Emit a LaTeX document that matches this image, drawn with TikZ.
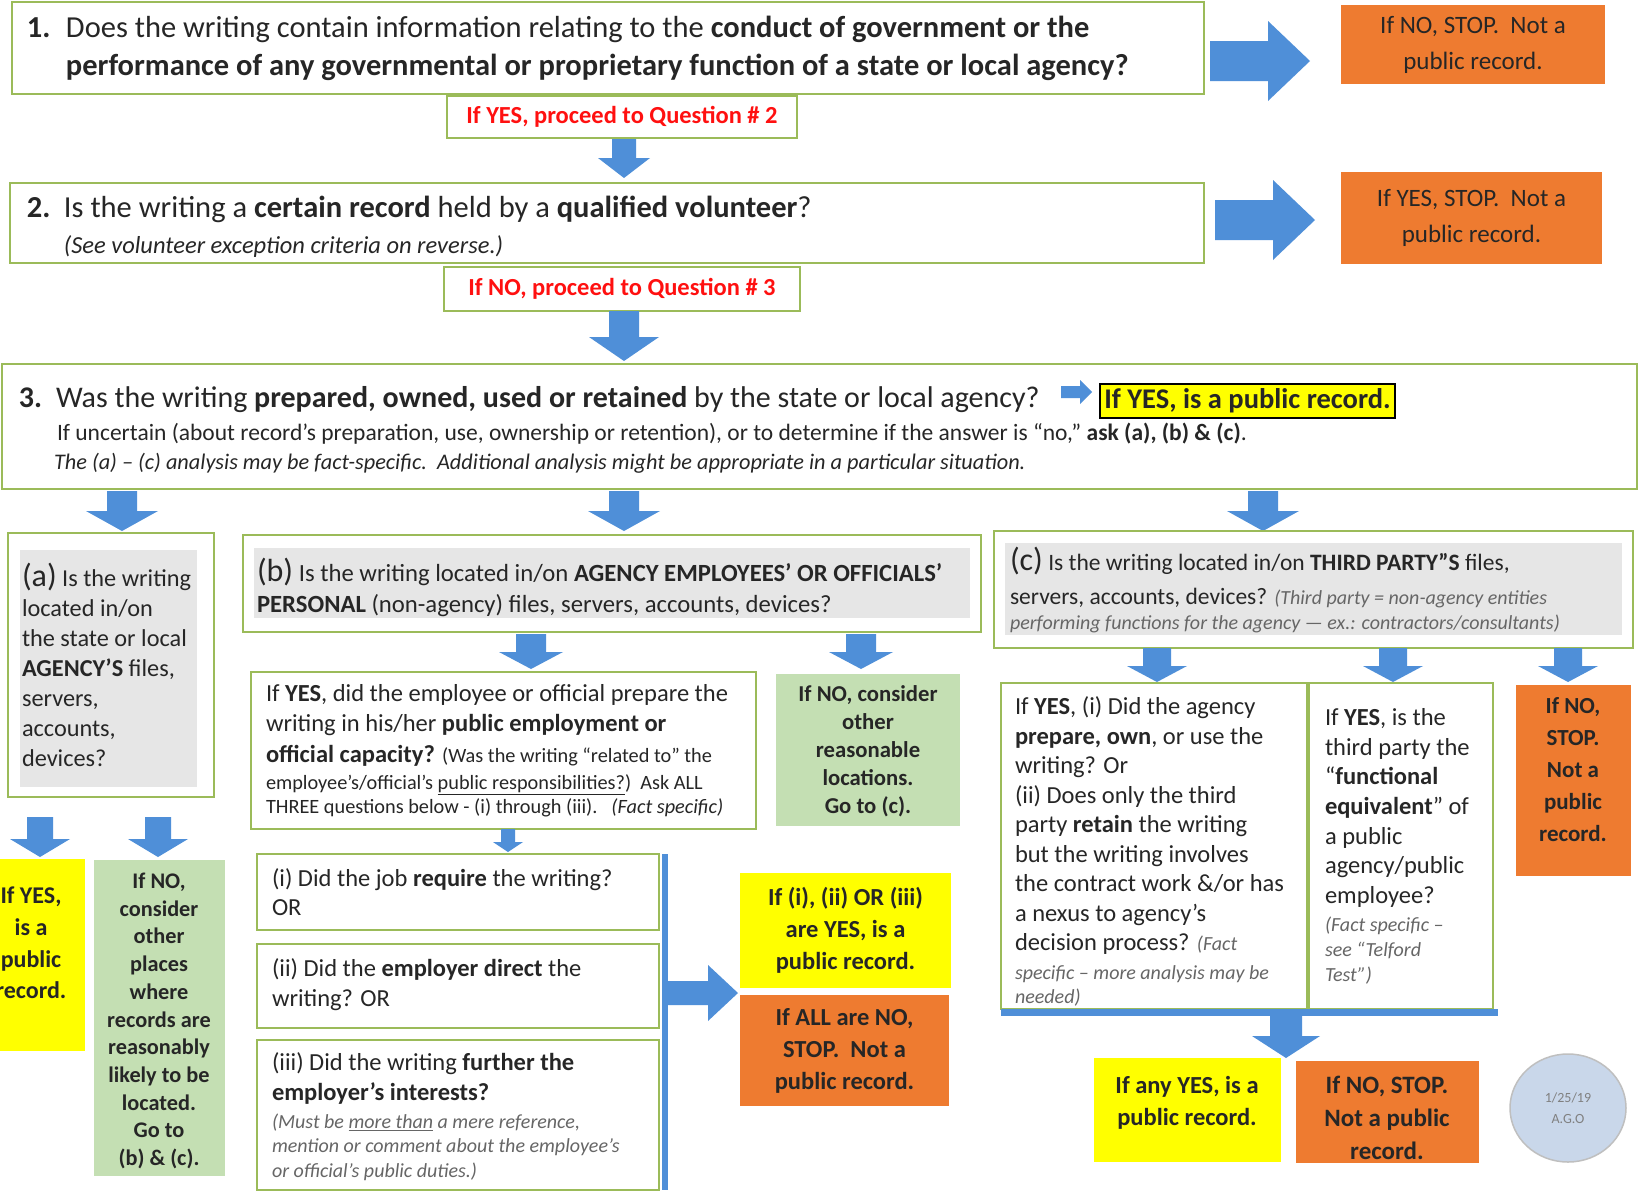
\documentclass[tikz,border=0pt]{standalone}
\usepackage{fontspec}
\setmainfont{Carlito}
\usetikzlibrary{shapes.geometric}
\definecolor{bordergreen}{HTML}{9BBB59}
\definecolor{arrowblue}{HTML}{4F8FD8}
\definecolor{orangebox}{HTML}{EE7B30}
\definecolor{yellowbox}{HTML}{FFFF00}
\definecolor{greenbox}{HTML}{C4DFB3}
\definecolor{grayfill}{HTML}{E6E6E6}
\definecolor{redtext}{HTML}{FF1010}
\definecolor{ellipsefill}{HTML}{C9D7EA}
\definecolor{txt}{HTML}{262626}
\newcommand{\myfs}[2]{\fontsize{#1}{#2}\selectfont}
\newcommand{\blockdown}[6]{\fill[arrowblue] ({#1-#4},#2) -- ({#1+#4},#2) -- ({#1+#4},{#3-#6}) -- ({#1+#5},{#3-#6}) -- (#1,#3) -- ({#1-#5},{#3-#6}) -- ({#1-#4},{#3-#6}) -- cycle;}
\newcommand{\blockright}[6]{\fill[arrowblue] (#1,{#3-#4}) -- ({#2-#6},{#3-#4}) -- ({#2-#6},{#3-#5}) -- (#2,#3) -- ({#2-#6},{#3+#5}) -- ({#2-#6},{#3+#4}) -- (#1,{#3+#4}) -- cycle;}
\begin{document}
\begin{tikzpicture}[x=1pt,y=-1pt,
  every node/.style={inner sep=0pt, outer sep=0pt, text=txt},
  box/.style={draw=bordergreen, line width=1.6pt, fill=white, anchor=north west},
  graybox/.style={fill=grayfill, anchor=north west},
  obox/.style={fill=orangebox, anchor=north west, align=center, font=\bfseries\myfs{24.5}{32}},
  ybox/.style={fill=yellowbox, anchor=north west, align=center, font=\bfseries\myfs{24.5}{32}},
  gbox/.style={fill=greenbox, anchor=north west},
  txtl/.style={anchor=west, align=left},
  txtc/.style={align=center, font=\bfseries\myfs{22.7}{28}},
  smallit/.style={text=black!60}
]
\useasboundingbox (0,0) rectangle (1639,1194);
\begin{scope}
\clip (0,0) rectangle (1639,1194);
\fill[white] (0,0) rectangle (1639,1194);

% Question 1
\node[box, minimum width=1192pt, minimum height=92pt] (q1) at (12,2) {};
\node[txtl, font=\myfs{30.5}{38}] (q1t) at (27,48) {\makebox[39pt][l]{\textbf{1.}}Does the writing contain information relating to the \textbf{conduct of government or the}\\\hspace*{39pt}\textbf{performance of any governmental or proprietary function of a state or local agency?}};
\node[box, minimum width=350pt, minimum height=42pt, font=\bfseries\myfs{24.5}{28}, text=redtext] (q1yes) at (447,96) {If YES, proceed to Question \# 2};
\node[obox, font=\myfs{25}{36}, minimum width=264pt, minimum height=79pt] (stop1) at (1341,5) {If NO, STOP.\ \ Not a\\public record.};
\blockright{1210}{1310}{61}{20}{40}{42}
\blockdown{624}{139}{178}{12}{26}{20}

% Question 2
\node[box, minimum width=1194pt, minimum height=80pt] (q2) at (10,183) {};
\node[txtl, font=\myfs{30.5}{36}] (q2t) at (27,227) {\makebox[37pt][l]{\textbf{2.}}Is the writing a \textbf{certain record} held by a \textbf{qualified volunteer}?\\\hspace*{37pt}{\myfs{24.5}{36}\itshape (See volunteer exception criteria on reverse.)}};
\node[box, minimum width=356pt, minimum height=44pt, font=\bfseries\myfs{24.5}{28}, text=redtext] (q2no) at (444,267) {If NO, proceed to Question \# 3};
\node[obox, font=\myfs{25}{36}, minimum width=261pt, minimum height=92pt] (stop2) at (1341,172) {If YES, STOP.\ \ Not a\\public record.};
\blockright{1215}{1315}{220}{20}{40}{42}
\blockdown{624}{311}{361}{15}{35}{24}

% Question 3
\node[box, minimum width=1635pt, minimum height=125pt] (q3) at (2,364) {};
\node[anchor=west, font=\myfs{30}{34}] (q3a) at (19,400) {\makebox[37pt][l]{\textbf{3.}}Was the writing \textbf{prepared, owned, used or retained} by the state or local agency?};
\node[anchor=west, font=\myfs{23.5}{28}] (q3b) at (57,434) {If uncertain (about record’s preparation, use, ownership or retention), or to determine if the answer is “no,” \textbf{ask (a), (b) \& (c)}.};
\node[anchor=west, font=\itshape\myfs{22.3}{26}] (q3c) at (54,463) {The (a) – (c) analysis may be fact-specific.\ \ Additional analysis might be appropriate in a particular situation.};
\node[draw=black, line width=1.3pt, fill=yellowbox, anchor=north west, minimum width=295pt, minimum height=34pt, font=\bfseries\myfs{28.5}{30}] (q3yes) at (1100,384) {If YES, is a public record.};
\blockright{1061}{1092}{392}{6}{12}{12}
\blockdown{122}{491}{531}{15}{36}{20}
\blockdown{624}{491}{531}{15}{36}{20}
\blockdown{1263}{491}{531}{15}{36}{20}

% (a)
\node[box, line width=1.2pt, minimum width=206pt, minimum height=264pt] (qa) at (8,533) {};
\node[graybox, minimum width=177pt, minimum height=237pt] (qag) at (20,550) {};
\node[txtl, font=\myfs{24.3}{30}] (qat) at (22,665) {{\myfs{32}{30}(a)} Is the writing\\located in/on\\the state or local\\\textbf{AGENCY’S} files,\\servers,\\accounts,\\devices?};
\blockdown{40}{817}{857}{13}{30}{18}
\blockdown{158}{817}{857}{13}{30}{18}
\node[ybox, minimum width=85pt, minimum height=192pt] (ayes) at (0,859) {};
\node[txtc, font=\bfseries\myfs{24}{31.7}] (ayest) at (31,943) {If YES,\\is a\\public\\record.};
\node[gbox, minimum width=131pt, minimum height=316pt] (ano) at (94,860) {};
\node[txtc, font=\bfseries\myfs{22.3}{27.7}] (anot) at (159,1021) {If NO,\\consider\\other\\places\\where\\records are\\reasonably\\likely to be\\located.\\Go to\\(b) \& (c).};

% (b)
\node[box, line width=1.2pt, minimum width=738pt, minimum height=97pt] (qb) at (243,535) {};
\node[graybox, minimum width=716pt, minimum height=70pt] (qbg) at (254,548) {};
\node[txtl, font=\myfs{24.7}{31}] (qbt) at (257,587) {{\myfs{32}{31}(b)} Is the writing located in/on \textbf{AGENCY EMPLOYEES’ OR OFFICIALS’}\\\textbf{PERSONAL} (non-agency) files, servers, accounts, devices?};
\blockdown{531}{634}{669}{15}{32}{17}
\blockdown{861}{634}{669}{15}{32}{17}
\node[box, line width=1.2pt, minimum width=505pt, minimum height=157pt] (emp) at (251,672) {};
\node[txtl, font=\myfs{24.5}{30.5}] (empt) at (266,725) {If \textbf{YES}, did the employee or official prepare the\\writing in his/her \textbf{public employment or}\\\textbf{official capacity?} {\myfs{20.3}{30}(Was the writing “related to” the}};
\node[txtl, font=\myfs{20.3}{24}] (empt2) at (266,796) {employee’s/official’s \underline{public responsibilities?}) \ Ask ALL\\THREE questions below - (i) through (iii).\ \ \ \textit{(Fact specific)}};
\node[gbox, minimum width=184pt, minimum height=152pt] (bno) at (776,674) {};
\node[txtc] (bnot) at (868,751) {If NO, consider\\other\\reasonable\\locations.\\Go to (c).};
\blockdown{508}{829}{852}{7}{15}{10}

\node[box, line width=1.2pt, minimum width=402pt, minimum height=76pt] (qi) at (257,854) {};
\node[txtl, font=\myfs{24.5}{29}] (qit) at (272,892) {(i) Did the job \textbf{require} the writing?\\OR};
\node[box, line width=1.2pt, minimum width=402pt, minimum height=84pt] (qii) at (257,944) {};
\node[txtl, font=\myfs{24.5}{30}] (qiit) at (272,985) {(ii) Did the \textbf{employer direct} the\\writing? OR};
\node[box, line width=1.2pt, minimum width=402pt, minimum height=150pt] (qiii) at (257,1040) {};
\node[txtl, font=\myfs{24.5}{30}] (qiiit) at (272,1078) {(iii) Did the writing \textbf{further the}\\\textbf{employer’s interests?}};
\node[txtl, font=\itshape\myfs{20}{24.5}, smallit] (qiiit2) at (272,1147) {(Must be \underline{more than} a mere reference,\\mention or comment about the employee’s\\or official’s public duties.)};
\fill[arrowblue] (662,854) rectangle (668,1190);
\blockright{665}{738}{993}{12}{28}{30}
\node[ybox, minimum width=211pt, minimum height=115pt] (iyes) at (740,873) {If (i), (ii) OR (iii)\\are YES, is a\\public record.};
\node[obox, minimum width=209pt, minimum height=111pt] (ino) at (740,995) {If ALL are NO,\\STOP.\ \ Not a\\public record.};

% (c)
\node[box, line width=1.2pt, minimum width=639pt, minimum height=117pt] (qc) at (994,531) {};
\node[graybox, minimum width=617pt, minimum height=92pt] (qcg) at (1005,543) {};
\node[txtl, font=\myfs{23.5}{34}] (qct) at (1010,578) {{\myfs{32}{34}(c)} Is the writing located in/on \textbf{THIRD PARTY”S} files,\\servers, accounts, devices? {\itshape\myfs{20}{34}\color{black!60}(Third party = non-agency entities}};
\node[anchor=west, font=\itshape\myfs{20}{22}, smallit] (qct2) at (1010,624) {performing functions for the agency — ex.: contractors/consultants)};
\blockdown{1157}{648}{682}{14}{30}{16}
\blockdown{1393}{648}{682}{14}{30}{16}
\blockdown{1568}{648}{682}{14}{30}{16}
\node[box, line width=1.2pt, minimum width=306pt, minimum height=326pt] (c1) at (1001,683) {};
\node[box, line width=1.2pt, minimum width=184pt, minimum height=326pt] (c2) at (1309,683) {};
\node[txtl, font=\myfs{24.5}{29.5}] (c1t) at (1015,826) {If \textbf{YES}, (i) Did the agency\\\textbf{prepare, own}, or use the\\writing? Or\\(ii) Does only the third\\party \textbf{retain} the writing\\but the writing involves\\the contract work \&/or has\\a nexus to agency’s\\decision process? {\itshape\myfs{20}{29.5}\color{black!60}(Fact}};
\node[txtl, font=\itshape\myfs{20}{24}, smallit] (c1t2) at (1015,986) {specific – more analysis may be\\needed)};
\node[txtl, font=\myfs{24.5}{29.7}] (c2t) at (1325,808) {If \textbf{YES}, is the\\third party the\\“\textbf{functional}\\\textbf{equivalent}” of\\a public\\agency/public\\employee?};
\node[txtl, font=\itshape\myfs{20}{25}, smallit] (c2t2) at (1325,951) {(Fact specific –\\see “Telford\\Test”)};
\fill[arrowblue] (1001,1009) rectangle (1498,1016);
\blockdown{1286}{1009}{1058}{16}{34}{22}
\node[obox, minimum width=115pt, minimum height=191pt] (cno) at (1516,685) {};
\node[txtc, font=\bfseries\myfs{23}{32}] (cnot) at (1573,770) {If NO,\\STOP.\\Not a\\public\\record.};
\node[ybox, minimum width=187pt, minimum height=104pt] (cyes) at (1094,1058) {};
\node[txtc, font=\bfseries\myfs{24.5}{32}] (cyest) at (1187,1103) {If any YES, is a\\public record.};
\node[obox, minimum width=183pt, minimum height=102pt] (cno2) at (1296,1061) {};
\node[txtc, font=\bfseries\myfs{25}{33}] (cno2t) at (1387,1118) {If NO, STOP.\\Not a public\\record.};
\node[ellipse, draw=black!25, line width=1.5pt, fill=ellipsefill, minimum width=116pt, minimum height=108pt, align=center, font=\myfs{14}{21}, text=black!50] (date) at (1568,1108) {1/25/19\\A.G.O};
\end{scope}
\end{tikzpicture}
\end{document}
